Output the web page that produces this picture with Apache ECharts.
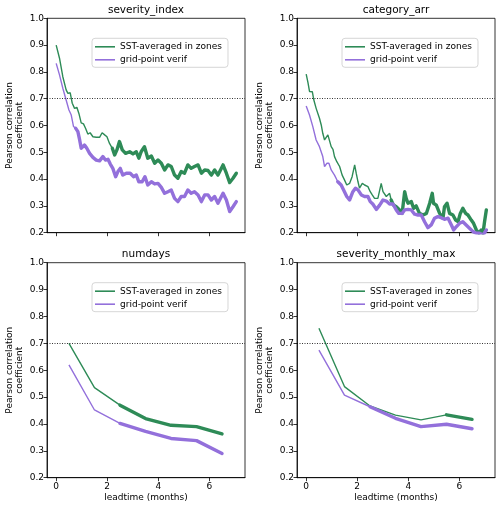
<!DOCTYPE html>
<html><head><meta charset="utf-8">
<script src="https://cdn.jsdelivr.net/npm/echarts@6/dist/echarts.min.js"></script>
<style>html,body{margin:0;padding:0;background:#fff}#c{width:500px;height:509px}</style>
</head><body><div id="c"></div>
<script>
// ---- data ----
const panelTitles = ['severity_index', 'category_arr', 'numdays', 'severity_monthly_max'];
const seriesNames = ['SST-averaged in zones', 'grid-point verif'];
const xTicks = [0, 2, 4, 6];

// severity_index (leadtime in months)
const siGreenX = [0,.13,.26,.39,.46,.55,.63,.72,.81,.89,.98,1.07,1.15,1.24,1.33,1.44,1.57,1.70,1.80,1.90,1.99,2.09,2.20,2.29,2.38,2.48,2.59,2.72,2.88,3.01,3.14,3.24,3.33,3.46,3.59,3.73,3.86,3.99,4.12,4.25,4.38,4.51,4.64,4.77,4.90,5.03,5.16,5.29,5.42,5.56,5.69,5.82,5.95,6.08,6.21,6.34,6.54,6.67,6.80,6.93,7.06];
const siGreenY = [.900,.851,.782,.733,.720,.722,.683,.664,.668,.645,.610,.606,.590,.568,.573,.558,.556,.556,.573,.565,.558,.533,.515,.490,.509,.540,.509,.496,.502,.494,.502,.478,.502,.521,.478,.486,.459,.471,.459,.434,.453,.447,.415,.403,.428,.422,.453,.440,.447,.453,.422,.434,.432,.415,.434,.415,.453,.422,.387,.403,.422];
const siPurpleX = [0,.13,.26,.39,.50,.59,.68,.76,.85,.92,.98,1.11,1.20,1.31,1.44,1.57,1.70,1.83,1.93,2.03,2.12,2.22,2.33,2.42,2.51,2.61,2.75,2.90,3.03,3.14,3.24,3.37,3.48,3.59,3.73,3.86,3.99,4.12,4.25,4.38,4.51,4.64,4.77,4.90,5.03,5.16,5.29,5.42,5.56,5.69,5.82,5.95,6.08,6.21,6.34,6.54,6.67,6.80,6.93,7.06];
const siPurpleY = [.832,.789,.739,.695,.658,.639,.596,.590,.577,.546,.515,.527,.515,.496,.481,.471,.468,.484,.471,.474,.456,.440,.409,.428,.440,.415,.422,.422,.409,.415,.390,.390,.409,.378,.390,.382,.384,.369,.347,.353,.359,.328,.316,.335,.335,.359,.347,.353,.341,.316,.341,.341,.322,.335,.310,.347,.322,.279,.297,.316];

// category_arr
const caGreenX = [0,.07,.13,.24,.30,.39,.46,.52,.59,.65,.72,.78,.85,.92,.98,1.05,1.11,1.20,1.31,1.41,1.50,1.59,1.70,1.80,1.90,1.96,2.03,2.09,2.20,2.29,2.42,2.51,2.59,2.68,2.81,2.94,3.01,3.14,3.27,3.33,3.42,3.53,3.66,3.76,3.86,3.92,3.99,4.12,4.21,4.31,4.44,4.58,4.71,4.84,4.94,4.99,5.10,5.23,5.36,5.42,5.52,5.62,5.75,5.86,5.95,6.04,6.14,6.25,6.34,6.47,6.56,6.67,6.77,6.86,6.93,6.99,7.06];
const caGreenY = [.792,.760,.727,.726,.695,.664,.660,.627,.602,.571,.546,.540,.565,.565,.521,.511,.484,.465,.447,.415,.397,.378,.384,.409,.453,.422,.390,.366,.384,.378,.372,.353,.341,.328,.328,.384,.353,.335,.347,.322,.303,.297,.285,.272,.353,.328,.310,.316,.291,.300,.272,.266,.272,.310,.347,.310,.303,.272,.254,.297,.310,.272,.266,.247,.241,.272,.291,.272,.266,.247,.235,.210,.198,.210,.198,.241,.285];
const caPurpleX = [0,.13,.26,.39,.52,.65,.72,.81,.89,.98,1.11,1.24,1.37,1.50,1.59,1.70,1.83,1.93,2.03,2.16,2.29,2.42,2.51,2.61,2.75,2.88,3.01,3.14,3.27,3.40,3.53,3.63,3.76,3.86,3.99,4.12,4.25,4.38,4.51,4.64,4.77,4.90,5.03,5.16,5.29,5.42,5.56,5.69,5.78,5.88,6.01,6.14,6.27,6.41,6.54,6.67,6.80,6.93,7.06];
const caPurpleY = [.673,.639,.596,.546,.521,.484,.447,.459,.459,.434,.415,.390,.378,.353,.335,.322,.353,.366,.360,.341,.335,.335,.316,.307,.287,.303,.322,.318,.307,.307,.285,.272,.272,.285,.287,.285,.269,.266,.266,.241,.219,.229,.254,.260,.256,.250,.254,.229,.210,.222,.235,.241,.229,.216,.204,.198,.198,.191,.210];

// monthly panels
const monthX = [0.5, 1.5, 2.5, 3.5, 4.5, 5.5, 6.5];
const ndGreenY = [.700,.535,.470,.420,.395,.390,.363];
const ndPurpleY = [.620,.452,.402,.372,.346,.338,.290];
const smmGreenY = [.756,.539,.467,.433,.415,.434,.417];
const smmPurpleY = [.675,.507,.464,.421,.390,.399,.382];

// leadtime from which each line is drawn thick
const thickFromGreen = [2.2, 3.3, 2.5, 5.5];
const thickFromPurple = [0.7, 1.2, 2.5, 2.5];
const refLine = 0.7;

// ---- chart ----
const GREEN = '#2e8b57', PURPLE = '#9370db';
const FONT = 'DejaVu Sans';
const panelData = [
  [siGreenX, siGreenY, siPurpleX, siPurpleY],
  [caGreenX, caGreenY, caPurpleX, caPurpleY],
  [monthX, ndGreenY, monthX, ndPurpleY],
  [monthX, smmGreenY, monthX, smmPurpleY]
];
const pos = [
  {left: 47, top: 18.3, height: 214.4},
  {left: 297, top: 18.3, height: 214.4},
  {left: 47, top: 262.7, height: 215},
  {left: 297, top: 262.7, height: 215}
];
const zip = (xs, ys) => xs.map((x, i) => [x, ys[i]]);

const option = {
  animation: false,
  backgroundColor: '#fff',
  title: [], grid: [], xAxis: [], yAxis: [], legend: [], series: []
};

pos.forEach((p, i) => {
  const bottomRow = i >= 2;
  option.title.push({
    text: panelTitles[i], left: p.left + 99, top: p.top - 14, textAlign: 'center', padding: 0,
    textStyle: {fontFamily: FONT, fontSize: 10.5, fontWeight: 'normal', color: '#000'}
  });
  option.grid.push({left: p.left, top: p.top, width: 198, height: p.height,
    show: true, borderColor: '#000', borderWidth: 0.8, backgroundColor: 'transparent'});
  option.xAxis.push({
    type: 'value', gridIndex: i, min: -0.36, max: 7.40,
    name: bottomRow ? 'leadtime (months)' : '', nameLocation: 'middle', nameGap: 15,
    nameTextStyle: {fontFamily: FONT, fontSize: 9, color: '#000'},
    axisLine: {show: true, onZero: false, lineStyle: {color: '#000', width: 0.8}},
    axisTick: {show: true, customValues: xTicks, length: 3.5, lineStyle: {color: '#000', width: 0.8}},
    axisLabel: {show: bottomRow, customValues: xTicks, margin: 4, fontFamily: FONT, fontSize: 9, color: '#000'},
    splitLine: {show: false}
  });
  option.yAxis.push({
    type: 'value', gridIndex: i, min: 0.2, max: 1.0, interval: 0.1,
    name: 'Pearson correlation\ncoefficient', nameLocation: 'middle', nameGap: 22,
    nameTextStyle: {fontFamily: FONT, fontSize: 9, color: '#000', lineHeight: 10.5},
    axisLine: {show: true, onZero: false, lineStyle: {color: '#000', width: 0.8}},
    axisTick: {show: true, length: 3.5, lineStyle: {color: '#000', width: 0.8}},
    axisLabel: {margin: 3, fontFamily: FONT, fontSize: 9, color: '#000', formatter: v => v.toFixed(1)},
    splitLine: {show: false}
  });
  option.legend.push({
    data: seriesNames, orient: 'vertical', left: p.left + 45, top: p.top + 20,
    icon: 'rect', itemWidth: 20, itemHeight: 1.6, itemGap: 2,
    padding: [3, 6, 2, 3], borderColor: '#cccccc', borderWidth: 0.8, borderRadius: 3,
    backgroundColor: 'rgba(255,255,255,0.8)',
    textStyle: {fontFamily: FONT, fontSize: 9, color: '#000', lineHeight: 11}
  });
  const [gx, gy, px, py] = panelData[i];
  const g = zip(gx, gy), pu = zip(px, py);
  const common = {type: 'line', xAxisIndex: i, yAxisIndex: i, showSymbol: false, symbol: 'none', clip: true, silent: true};
  option.series.push(Object.assign({}, common, {
    name: seriesNames[0], data: g, color: GREEN, lineStyle: {width: 1.4, color: GREEN}, z: 2,
    markLine: {silent: true, symbol: ['none', 'none'], label: {show: false},
      lineStyle: {type: [1, 1.5], color: '#000', width: 0.8}, data: [{yAxis: refLine}]}
  }));
  option.series.push(Object.assign({}, common, {
    name: seriesNames[1], data: pu, color: PURPLE, lineStyle: {width: 1.4, color: PURPLE}, z: 2
  }));
  option.series.push(Object.assign({}, common, {
    name: seriesNames[0], data: g.filter(d => d[0] >= thickFromGreen[i] - 1e-9), color: GREEN,
    lineStyle: {width: 3.4, color: GREEN, cap: 'round', join: 'round'}, z: 3
  }));
  option.series.push(Object.assign({}, common, {
    name: seriesNames[1], data: pu.filter(d => d[0] >= thickFromPurple[i] - 1e-9), color: PURPLE,
    lineStyle: {width: 3.4, color: PURPLE, cap: 'round', join: 'round'}, z: 3
  }));
});

const chart = echarts.init(document.getElementById('c'), null, {renderer: 'canvas'});
chart.setOption(option);
</script>
</body></html>
